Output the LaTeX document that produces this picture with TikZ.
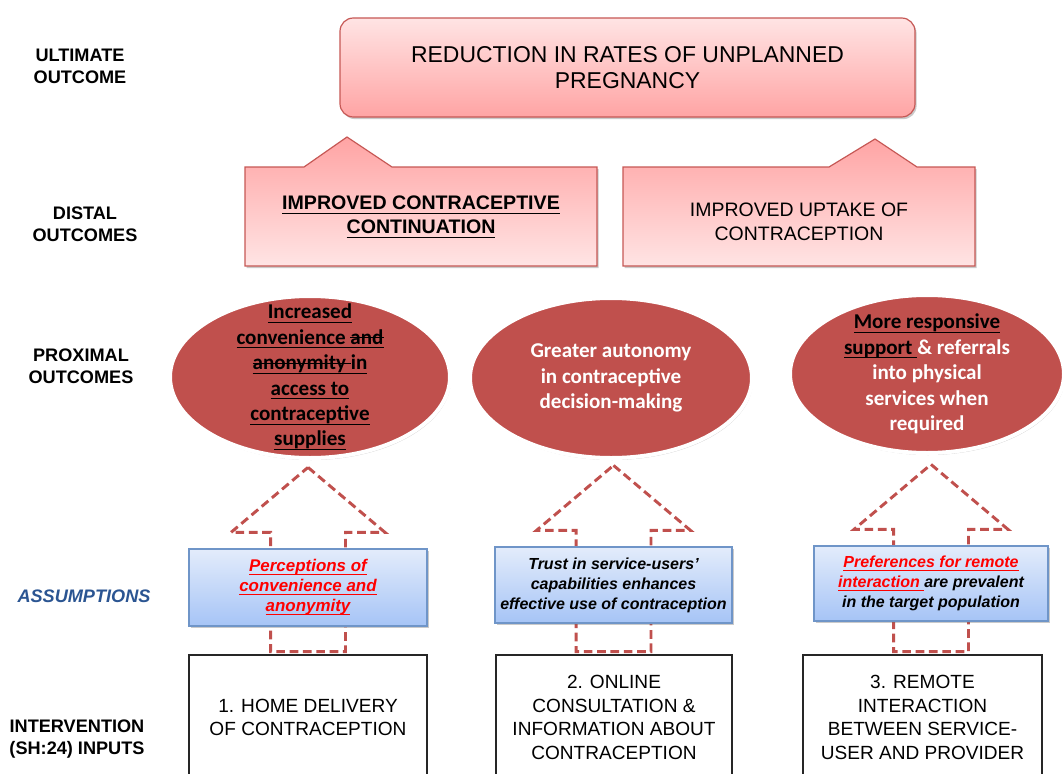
\documentclass[tikz,border=0pt]{standalone}
\usepackage{fontspec}
\setmainfont{Liberation Sans}
\newfontfamily\ovalfont{Carlito}
\usetikzlibrary{shapes.geometric,shadows,calc,backgrounds}

% underline and strike-through drawn with rules of fixed depth
\newcommand{\undl}[1]{\setbox0\hbox{#1}\rlap{\rule[-0.2em]{\wd0}{0.9pt}}\box0}
\newcommand{\strk}[1]{\setbox0\hbox{#1}\rlap{\rule[0.27em]{\wd0}{0.9pt}}\box0}

\definecolor{ovalred}{HTML}{C0504D}
\definecolor{edgered}{HTML}{C65855}
\definecolor{pinklight}{HTML}{FFE4E4}
\definecolor{pinkdark}{HTML}{FFA4A4}
\definecolor{bluelight}{HTML}{E3ECFB}
\definecolor{bluedark}{HTML}{A6C4F6}
\definecolor{blueedge}{HTML}{6F95C8}
\definecolor{headblue}{HTML}{2B5592}
\definecolor{dashred}{HTML}{C0504D}

\begin{document}
\begin{tikzpicture}[x=0.75pt,y=-0.75pt,
  softshadow/.style={drop shadow={shadow xshift=1.2pt,shadow yshift=-1.6pt,opacity=0.35,fill=black!60}},
  rowlabel/.style={font=\fontsize{13.6}{16.5}\selectfont\bfseries,align=center},
  goalbox/.style={draw=edgered,line width=0.9pt,rounded corners=10pt,top color=pinklight,bottom color=pinkdark,softshadow,minimum width=575*0.75pt,minimum height=99*0.75pt,align=center,font=\fontsize{17.2}{19.5}\selectfont},
  distalshape/.style={draw=edgered,line width=0.9pt,top color=pinkdark,bottom color=pinklight,softshadow},
  distaltext/.style={align=center,font=\fontsize{14.6}{18}\selectfont},
  oval/.style={ellipse,fill=ovalred,draw=white,line width=3pt,inner sep=0pt,drop shadow={shadow xshift=0.8pt,shadow yshift=-1.5pt,opacity=0.4,fill=black!50}},
  ovaltext/.style={align=center,text=white,inner sep=0pt,font=\ovalfont\bfseries\fontsize{15.8}{19.1}\selectfont},
  assume/.style={draw=blueedge,line width=0.9pt,top color=bluelight,bottom color=bluedark,softshadow,align=center,inner sep=0pt,font=\fontsize{12}{15}\selectfont\bfseries\itshape},
  inputbox/.style={draw=black!85,line width=1.1pt,fill=white,align=center,inner sep=0pt,minimum height=125*0.75pt,font=\fontsize{14.3}{17.6}\selectfont},
  dasharrow/.style={draw=dashred,line width=2.2pt,dash pattern=on 6.5pt off 3.5pt,line join=miter}
]
\useasboundingbox (0,0) rectangle (1063,774);

% row labels
\node[rowlabel] (lu) at (80,66.5) {ULTIMATE\\OUTCOME};
\node[rowlabel] (ld) at (85,224) {DISTAL\\OUTCOMES};
\node[rowlabel] (lp) at (81,366.5) {PROXIMAL\\OUTCOMES};
\node[rowlabel,text=headblue,font=\fontsize{13.6}{16.5}\selectfont\bfseries\itshape] (la) at (84,596) {ASSUMPTIONS};
\node[rowlabel] (li) at (77,739) {INTERVENTION\\(SH:24) INPUTS};

% ultimate outcome
\node[goalbox] (goal) at (627.5,67.5) {REDUCTION IN RATES OF UNPLANNED\\PREGNANCY};

% distal outcomes (callouts pointing up)
\path[distalshape] (245,167) -- (304,167) -- (347,137) -- (392,167) -- (597,167) -- (597,266) -- (245,266) -- cycle;
\node[distaltext,font=\fontsize{14.7}{18}\selectfont\bfseries] (dl) at (421,217) {\undl{IMPROVED CONTRACEPTIVE}\\\undl{CONTINUATION}};
\path[distalshape] (623,167) -- (829,167) -- (875,139) -- (917,167) -- (975,167) -- (975,266) -- (623,266) -- cycle;
\node[distaltext] (dr) at (799,221.5) {IMPROVED UPTAKE OF\\CONTRACEPTION};

% proximal outcomes
\node[oval,minimum width=280*0.75pt,minimum height=162*0.75pt] (pl) at (310,377) {};
\node[ovaltext,text=black] (plt) at (pl.center)
  {\undl{Increased}\\\undl{convenience \strk{and}}\\\undl{\strk{anonymity }in}\\\undl{access to}\\\undl{contraceptive}\\\undl{supplies}};
\node[oval,minimum width=282*0.75pt,minimum height=160*0.75pt] (pm) at (611,378) {};
\node[ovaltext] (pmt) at (pm.center) {Greater autonomy\\in contraceptive\\decision-making};
\node[oval,minimum width=274*0.75pt,minimum height=158*0.75pt] (pr) at (927,374) {};
\node[ovaltext] (prt) at (pr.center)
  {{\color{black}\undl{More responsive}}\\{\color{black}\undl{support }}\& referrals\\into physical\\services when\\required};

% assumptions
\node[assume,minimum width=238*0.75pt,minimum height=77*0.75pt,text=red,font=\fontsize{12.7}{15}\selectfont\bfseries\itshape] (al) at (308,587.5)
  {\undl{Perceptions of}\\\undl{convenience and}\\\undl{anonymity}};
\node[assume,minimum width=237*0.75pt,minimum height=76*0.75pt] (am) at (613.5,585)
  {Trust in service-users’\\capabilities enhances\\effective use of contraception};
\node[assume,minimum width=234*0.75pt,minimum height=75*0.75pt] (ar) at (931,583.5)
  {{\color{red}\undl{Preferences for remote}}\\{\color{red}\undl{interaction }}are prevalent\\in the target population};

% intervention inputs
\node[inputbox,minimum width=238*0.75pt] (il) at (308,717.5) {1. HOME DELIVERY\\OF CONTRACEPTION};
\node[inputbox,minimum width=236*0.75pt] (im) at (614,717.5) {2. ONLINE\\CONSULTATION \&\\INFORMATION ABOUT\\CONTRACEPTION};
\node[inputbox,minimum width=239*0.75pt] (ir) at (922.5,717.5) {3. REMOTE\\INTERACTION\\BETWEEN SERVICE-\\USER AND PROVIDER};

% dashed block arrows from inputs through assumptions
\begin{scope}[on background layer]
\foreach \a/\i in {al/il,am/im,ar/ir}
  \draw[dasharrow] let \p1=(\a.north), \p2=(\i.north) in
    (\x1,\y1+60.75pt) -- (\x1+57.75pt,\y1+12pt) -- (\x1+28.1pt,\y1+12pt)
    -- (\x1+28.1pt,\y2+2pt) -- (\x1-28.1pt,\y2+2pt) -- (\x1-28.1pt,\y1+12pt)
    -- (\x1-57.75pt,\y1+12pt) -- cycle;
\end{scope}
\end{tikzpicture}
\end{document}
